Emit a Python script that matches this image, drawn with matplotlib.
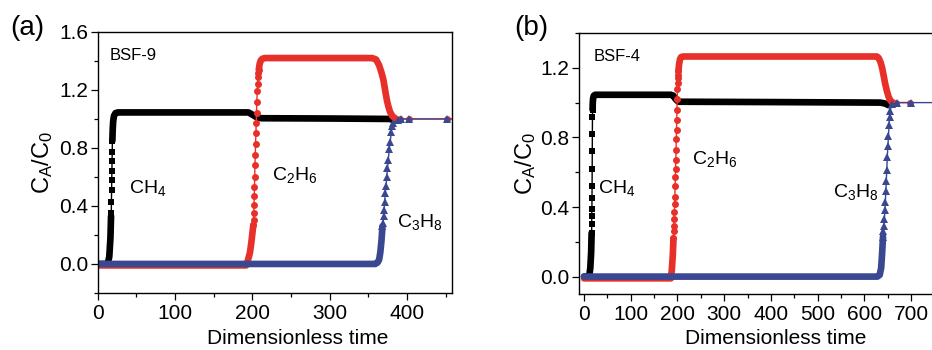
import matplotlib.pyplot as plt
from matplotlib.ticker import MultipleLocator

plt.rcParams['font.family'] = ['Liberation Sans', 'DejaVu Sans']
plt.rcParams['mathtext.fontset'] = 'custom'
plt.rcParams['mathtext.rm'] = 'Liberation Sans'
plt.rcParams['mathtext.it'] = 'Liberation Sans:italic'
plt.rcParams['mathtext.default'] = 'regular'

BLACK = '#000000'
RED = '#e8302a'
BLUE = '#3a4892'

# ---------------- panel (a): BSF-9 ----------------
# dense stretches (many overlapping markers) and sparse stretches (single markers)
ch4_a_d1_t = [0, 13, 15, 16.5, 17.3]
ch4_a_d1_c = [0, 0, 0.05, 0.18, 0.33]
ch4_a_m_t = [17.3, 17.6, 17.8, 18.0, 18.2, 18.4, 18.6, 18.8, 19.0]
ch4_a_m_c = [0.33, 0.35, 0.43, 0.51, 0.58, 0.64, 0.71, 0.77, 0.85]
ch4_a_d2_t = [19.0, 19.4, 20.0, 21.0, 23.0, 26.0, 195, 200, 206, 212, 300, 378, 383]
ch4_a_d2_c = [0.85, 0.92, 0.98, 1.02, 1.04, 1.045, 1.045, 1.03, 1.01, 1.005, 1.003, 1.0, 0.99]

c2h6_a_d1_t = [0, 192, 194, 197, 199, 201.3]
c2h6_a_d1_c = [-0.01, -0.01, 0.02, 0.08, 0.16, 0.27]
c2h6_a_m_t = [201.3, 201.6, 201.9, 202.2, 202.5, 202.8, 203.1, 203.4, 203.8, 204.2,
              204.6, 205.0, 205.4, 205.8, 206.3, 206.8, 207.3, 207.8, 208.3]
c2h6_a_m_c = [0.27, 0.30, 0.35, 0.41, 0.47, 0.53, 0.60, 0.68, 0.75, 0.83,
              0.90, 0.97, 1.04, 1.12, 1.19, 1.24, 1.29, 1.32, 1.34]
c2h6_a_d2_t = [208.3, 209.5, 211, 213, 216, 355, 360, 364, 367, 369.5, 372, 374, 376, 378, 381, 385]
c2h6_a_d2_c = [1.34, 1.38, 1.405, 1.415, 1.42, 1.42, 1.41, 1.37, 1.32, 1.27, 1.19, 1.13, 1.085, 1.05, 1.02, 1.003]
c2h6_a_m2_t = [385, 391, 402, 452]
c2h6_a_m2_c = [1.003, 1.0, 1.0, 1.0]

c3h8_a_d1_t = [0, 359, 362, 364, 365.5, 367, 368.3]
c3h8_a_d1_c = [0, 0, 0.01, 0.03, 0.08, 0.16, 0.26]
c3h8_a_m_t = [368.3, 369.0, 369.7, 370.4, 371.2, 372.0, 372.9, 373.8, 374.8, 375.9,
              377.0, 378.3, 379.7, 381.2, 382.5, 388.5, 392, 403, 452, 500]
c3h8_a_m_c = [0.26, 0.28, 0.33, 0.37, 0.43, 0.49, 0.54, 0.60, 0.66, 0.72,
              0.79, 0.84, 0.91, 0.95, 0.97, 0.99, 1.0, 1.0, 1.0, 1.0]

# ---------------- panel (b): BSF-4 ----------------
ch4_b_d1_t = [0, 11, 13.5, 15.3, 16.3]
ch4_b_d1_c = [0, 0, 0.05, 0.14, 0.25]
ch4_b_m_t = [16.3, 16.5, 16.7, 16.9, 17.1, 17.3, 17.5, 17.7, 17.9, 18.1, 18.3]
ch4_b_m_c = [0.25, 0.30, 0.35, 0.39, 0.45, 0.52, 0.62, 0.72, 0.82, 0.92, 0.96]
ch4_b_d2_t = [18.3, 18.8, 19.5, 21, 24, 28, 186, 191, 196, 202, 400, 634, 644, 652]
ch4_b_d2_c = [0.96, 1.0, 1.025, 1.04, 1.045, 1.045, 1.045, 1.04, 1.02, 1.005, 1.003, 1.0, 0.995, 0.985]

c2h6_b_d1_t = [0, 186, 188, 190, 191.5]
c2h6_b_d1_c = [-0.01, -0.01, 0.04, 0.12, 0.22]
c2h6_b_m_t = [191.5, 192.0, 192.5, 193.0, 193.5, 194.0, 194.5, 195.0, 195.5, 196.0, 196.5,
              197.0, 197.5, 198.0, 198.5, 199.0, 199.5, 200.0, 200.5, 201.0, 201.5, 202.0]
c2h6_b_m_c = [0.22, 0.26, 0.29, 0.33, 0.37, 0.42, 0.46, 0.52, 0.57, 0.62, 0.67,
              0.73, 0.79, 0.84, 0.90, 0.96, 1.02, 1.08, 1.11, 1.14, 1.16, 1.18]
c2h6_b_d2_t = [202, 203.5, 205.5, 208, 212, 627, 631, 635, 638, 641, 644.5, 648, 651.6, 655, 659]
c2h6_b_d2_c = [1.18, 1.22, 1.25, 1.262, 1.265, 1.265, 1.255, 1.23, 1.2, 1.16, 1.11, 1.07, 1.036, 1.015, 1.003]
c2h6_b_m2_t = [659, 668, 698]
c2h6_b_m2_c = [1.003, 1.0, 1.0]

c3h8_b_d1_t = [0, 628, 633, 636, 638, 640]
c3h8_b_d1_c = [0, 0, 0.01, 0.05, 0.13, 0.23]
c3h8_b_m_t = [640, 641, 642, 643, 644, 645, 646, 647, 648, 649.2, 650.4, 651.7,
              653, 654, 655, 659, 670, 699, 780]
c3h8_b_m_c = [0.23, 0.26, 0.29, 0.33, 0.38, 0.43, 0.49, 0.55, 0.61, 0.69, 0.75, 0.81,
              0.87, 0.92, 0.95, 0.99, 1.0, 1.0, 1.0]

DENSE_LW = 4.8
THIN_LW = 1.0
MS = {'s': 4.4, 'o': 5.0, '^': 5.6}


def draw_dense(ax, t, c, color):
    ax.plot(t, c, color=color, lw=DENSE_LW, solid_capstyle='round', solid_joinstyle='round')


def draw_marks(ax, t, c, color, marker):
    ax.plot(t, c, color=color, lw=THIN_LW, marker=marker, ms=MS[marker], mew=0)


def style_axes(ax):
    ax.tick_params(axis='both', which='both', direction='out', top=False, right=False,
                   labelsize=15, width=0.9)
    ax.tick_params(axis='both', which='major', length=5)
    ax.tick_params(axis='both', which='minor', length=3)
    ax.tick_params(axis='x', pad=3)
    ax.tick_params(axis='y', pad=2)
    for s in ax.spines.values():
        s.set_linewidth(1.0)


fig = plt.figure(figsize=(9.32, 3.5), dpi=100)

# ---- (a)
ax1 = fig.add_axes([0.1048, 0.163, 0.380, 0.7457])
draw_dense(ax1, ch4_a_d1_t, ch4_a_d1_c, BLACK)
draw_marks(ax1, ch4_a_m_t, ch4_a_m_c, BLACK, 's')
draw_dense(ax1, ch4_a_d2_t, ch4_a_d2_c, BLACK)
draw_dense(ax1, c2h6_a_d1_t, c2h6_a_d1_c, RED)
draw_marks(ax1, c2h6_a_m_t, c2h6_a_m_c, RED, 'o')
draw_dense(ax1, c2h6_a_d2_t, c2h6_a_d2_c, RED)
draw_marks(ax1, c2h6_a_m2_t, c2h6_a_m2_c, RED, 'o')
draw_dense(ax1, c3h8_a_d1_t, c3h8_a_d1_c, BLUE)
draw_marks(ax1, c3h8_a_m_t, c3h8_a_m_c, BLUE, '^')

ax1.set_xlim(0, 458)
ax1.set_ylim(-0.2, 1.6)
ax1.xaxis.set_major_locator(MultipleLocator(100))
ax1.xaxis.set_minor_locator(MultipleLocator(50))
ax1.yaxis.set_major_locator(MultipleLocator(0.4))
ax1.yaxis.set_minor_locator(MultipleLocator(0.2))
ax1.yaxis.set_major_formatter('{x:.1f}')
style_axes(ax1)

ax1.set_xlabel('Dimensionless time', fontsize=15)
ax1.xaxis.set_label_coords(0.565, -0.195)
ax1.xaxis.label.set_verticalalignment('baseline')
ax1.set_ylabel(r'C$_A$/C$_0$', fontsize=17)
ax1.yaxis.set_label_coords(-0.157, 0.5)
ax1.yaxis.label.set_verticalalignment('center')

ax1.text(16, 1.407, 'BSF-9', fontsize=12, va='baseline')
ax1.text(40.5, 0.49, r'CH$_4$', fontsize=14, va='baseline')
ax1.text(225.5, 0.58, r'C$_2$H$_6$', fontsize=14, va='baseline')
ax1.text(387.5, 0.257, r'C$_3$H$_8$', fontsize=14, va='baseline')
fig.text(10 / 932, 1 - 35 / 350, '(a)', fontsize=20, va='baseline')

# ---- (b)
ax2 = fig.add_axes([0.6216, 0.16, 0.385, 0.7457])
draw_dense(ax2, ch4_b_d1_t, ch4_b_d1_c, BLACK)
draw_marks(ax2, ch4_b_m_t, ch4_b_m_c, BLACK, 's')
draw_dense(ax2, ch4_b_d2_t, ch4_b_d2_c, BLACK)
draw_dense(ax2, c2h6_b_d1_t, c2h6_b_d1_c, RED)
draw_marks(ax2, c2h6_b_m_t, c2h6_b_m_c, RED, 'o')
draw_dense(ax2, c2h6_b_d2_t, c2h6_b_d2_c, RED)
draw_marks(ax2, c2h6_b_m2_t, c2h6_b_m2_c, RED, 'o')
draw_dense(ax2, c3h8_b_d1_t, c3h8_b_d1_c, BLUE)
draw_marks(ax2, c3h8_b_m_t, c3h8_b_m_c, BLUE, '^')

ax2.set_xlim(-10, 758)
ax2.set_ylim(-0.1, 1.4)
ax2.xaxis.set_major_locator(MultipleLocator(100))
ax2.xaxis.set_minor_locator(MultipleLocator(50))
ax2.yaxis.set_major_locator(MultipleLocator(0.4))
ax2.yaxis.set_minor_locator(MultipleLocator(0.2))
ax2.yaxis.set_major_formatter('{x:.1f}')
style_axes(ax2)

ax2.set_xlabel('Dimensionless time', fontsize=15)
ax2.xaxis.set_label_coords(0.548, -0.191)
ax2.xaxis.label.set_verticalalignment('baseline')
ax2.set_ylabel(r'C$_A$/C$_0$', fontsize=17)
ax2.yaxis.set_label_coords(-0.151, 0.5)
ax2.yaxis.label.set_verticalalignment('center')

ax2.text(21.4, 1.237, 'BSF-4', fontsize=12, va='baseline')
ax2.text(30.7, 0.48, r'CH$_4$', fontsize=14, va='baseline')
ax2.text(230.6, 0.647, r'C$_2$H$_6$', fontsize=14, va='baseline')
ax2.text(534, 0.458, r'C$_3$H$_8$', fontsize=14, va='baseline')
fig.text(514 / 932, 1 - 35 / 350, '(b)', fontsize=20, va='baseline')

fig.savefig('out.png', dpi=100)
